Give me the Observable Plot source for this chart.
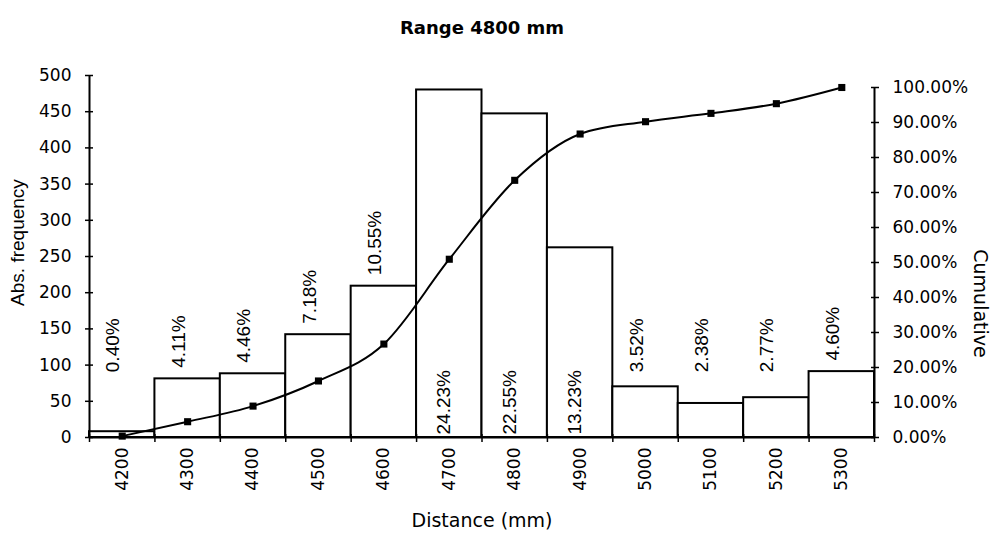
<!DOCTYPE html>
<html>
<head>
<meta charset="utf-8">
<script src="https://cdn.jsdelivr.net/npm/d3@7"></script>
<script src="https://cdn.jsdelivr.net/npm/@observablehq/plot@0.6"></script>
<style>
  html, body { margin: 0; padding: 0; background: #fff; }
  #chart { position: relative; width: 993px; height: 541px; }
  #chart svg { position: absolute; left: 0; top: 0; }
</style>
</head>
<body>
<div id="chart"></div>
<script>
// Distance classes (bin centres, mm)
const bins = [4200, 4300, 4400, 4500, 4600, 4700, 4800, 4900, 5000, 5100, 5200, 5300];
// Absolute frequency per class
const counts = [8, 81, 88, 142, 209, 480, 447, 262, 70, 47, 55, 91];
// Relative frequency per class (%)
const shares = [0.40, 4.11, 4.46, 7.18, 10.55, 24.23, 22.55, 13.23, 3.52, 2.38, 2.77, 4.60];
// Cumulative relative frequency (%)
const cumulative = [0.40, 4.51, 8.97, 16.15, 26.70, 50.93, 73.48, 86.71, 90.23, 92.61, 95.38, 100.00];
// Axis ticks
const freqTicks = [0, 50, 100, 150, 200, 250, 300, 350, 400, 450, 500];
const cumTicks = [0, 10, 20, 30, 40, 50, 60, 70, 80, 90, 100];

const titleText = "Range 4800 mm";
const xTitle = "Distance (mm)";
const yTitle = "Abs. frequency";
const y2Title = "Cumulative";

const step = bins[1] - bins[0];
const edges = bins.map(b => b - step / 2).concat([bins[bins.length - 1] + step / 2]);
const rows = bins.map((bin, i) => ({bin, count: counts[i], share: shares[i], cum: cumulative[i]}));

const W = 993, H = 541;
const axisFont = "DejaVu Sans";
const labelFont = "Liberation Sans";
const tickFontSize = 17;
const common = {
  width: W, height: H,
  marginLeft: 89, marginRight: 119, marginBottom: 104,
  style: {background: "transparent", fontFamily: axisFont, fontSize: "15px", color: "#000", overflow: "visible"}
};
const xDomain = [edges[0], edges[edges.length - 1]];

// Bars, absolute-frequency axis, share labels
const bars = Plot.plot({
  ...common,
  marginTop: 75,
  x: {domain: xDomain},
  y: {domain: [0, 500]},
  marks: [
    Plot.rectY(rows, {x1: d => d.bin - step / 2, x2: d => d.bin + step / 2, y: "count",
      fill: "white", stroke: "black", strokeWidth: 2}),
    Plot.ruleY([0], {stroke: "black", strokeWidth: 2}),
    Plot.ruleX([edges[0]], {y1: 0, y2: 500, stroke: "black", strokeWidth: 2}),
    Plot.axisY({ticks: freqTicks, tickSize: 8, dx: 4, tickPadding: 14, strokeWidth: 1.5,
      fontSize: tickFontSize, fontFamily: axisFont, label: null}),
    Plot.axisX({ticks: edges, tickSize: 8, dy: -3, tickFormat: () => "", strokeWidth: 1.5, label: null}),
    Plot.axisX({ticks: bins, tickSize: 0, tickPadding: 10, tickRotate: -90,
      tickFormat: d => String(d), fontSize: tickFontSize, fontFamily: axisFont, label: null}),
    // labels above the smaller bars
    Plot.text(rows.filter(d => d.count < 240), {
      x: "bin", y: d => Math.max(d.count, 75), text: d => d.share.toFixed(2) + "%",
      rotate: -90, textAnchor: "start", dx: -9, dy: -11,
      fontFamily: labelFont, fontSize: 19, fill: "black"}),
    // labels inside the tallest bars
    Plot.text(rows.filter(d => d.count >= 240), {
      x: "bin", y: 0, text: d => d.share.toFixed(2) + "%",
      rotate: -90, textAnchor: "start", dx: -5, dy: -3,
      fontFamily: labelFont, fontSize: 19, fill: "black"}),
    Plot.text([titleText], {text: d => d, frameAnchor: "top", textAnchor: "middle", dy: -54,
      fontFamily: axisFont, fontWeight: "bold", fontSize: 18}),
    Plot.text([xTitle], {text: d => d, frameAnchor: "bottom", textAnchor: "middle", dy: 89,
      fontFamily: axisFont, fontSize: 19}),
    Plot.text([yTitle], {text: d => d, frameAnchor: "left", textAnchor: "middle", dx: -72, dy: -14, rotate: -90,
      fontFamily: labelFont, fontSize: 19})
  ]
});

// Cumulative curve and percentage axis
const curve = Plot.plot({
  ...common,
  marginTop: 87,
  x: {domain: xDomain, axis: null},
  y: {domain: [0, 100], axis: null},
  marks: [
    Plot.ruleX([edges[edges.length - 1]], {y1: 0, y2: 100, stroke: "black", strokeWidth: 2}),
    Plot.axisY({anchor: "right", ticks: cumTicks, tickSize: 8, dx: -4, tickPadding: 14, strokeWidth: 1.5,
      tickFormat: d => d.toFixed(2) + "%", fontSize: tickFontSize, fontFamily: axisFont, label: null}),
    Plot.line(rows, {x: "bin", y: "cum", curve: "monotone-x", stroke: "black", strokeWidth: 2}),
    Plot.dot(rows, {x: "bin", y: "cum", symbol: "square", r: 4, fill: "black", stroke: "none"}),
    Plot.text([y2Title], {text: d => d, frameAnchor: "right", textAnchor: "middle", dx: 106, dy: 41, rotate: 90,
      fontFamily: axisFont, fontSize: 19})
  ]
});

const host = document.getElementById("chart");
host.append(bars, curve);
</script>
</body>
</html>
